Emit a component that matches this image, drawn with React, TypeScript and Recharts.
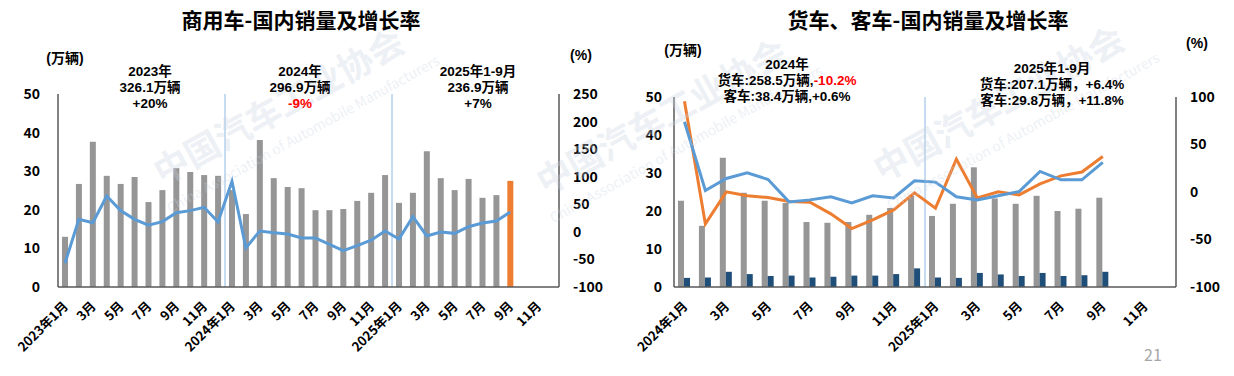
import React from 'react';
import { ComposedChart, Bar, Line, XAxis, YAxis, ReferenceLine, Cell } from 'recharts';

const FONT = '"Noto Sans CJK SC", "Noto Sans", sans-serif';
const NOTE_FONT = '"Liberation Sans", "Noto Sans CJK SC", sans-serif';

// 商用车 国内销量（万辆）与同比增长率（%），2023年1月 - 2025年12月
const cvMonths = [
  '2023-01', '2023-02', '2023-03', '2023-04', '2023-05', '2023-06',
  '2023-07', '2023-08', '2023-09', '2023-10', '2023-11', '2023-12',
  '2024-01', '2024-02', '2024-03', '2024-04', '2024-05', '2024-06',
  '2024-07', '2024-08', '2024-09', '2024-10', '2024-11', '2024-12',
  '2025-01', '2025-02', '2025-03', '2025-04', '2025-05', '2025-06',
  '2025-07', '2025-08', '2025-09', '2025-10', '2025-11', '2025-12',
];
const cvSales = [
  13.0, 26.7, 37.6, 28.8, 26.7, 28.5, 22.0, 25.1, 30.8, 29.8, 29.0, 28.8,
  25.1, 18.9, 38.1, 28.2, 25.9, 25.6, 19.9, 19.9, 20.2, 22.3, 24.4, 29.0,
  21.8, 24.4, 35.2, 28.2, 25.1, 28.0, 23.1, 23.8, 27.5, null, null, null,
];
const cvGrowth = [
  -57, 22.7, 16.6, 65, 38.5, 22.7, 12, 18.6, 34.8, 38.5, 44.5, 18,
  91.7, -29, 1.6, -1.5, -4, -11, -11, -22.6, -34, -25, -15, 1.6,
  -13, 27.6, -7.5, -0.2, -2.7, 9.4, 16, 19.7, 36, null, null, null,
];

// 货车、客车 国内销量（万辆）与同比增长率（%），2024年1月 - 2025年12月
const tbMonths = [
  '2024-01', '2024-02', '2024-03', '2024-04', '2024-05', '2024-06',
  '2024-07', '2024-08', '2024-09', '2024-10', '2024-11', '2024-12',
  '2025-01', '2025-02', '2025-03', '2025-04', '2025-05', '2025-06',
  '2025-07', '2025-08', '2025-09', '2025-10', '2025-11', '2025-12',
];
const truckSales = [
  22.7, 16.1, 34.0, 24.8, 22.7, 22.1, 17.1, 16.9, 17.1, 19.0, 20.8, 24.0,
  18.7, 21.9, 31.5, 23.3, 21.9, 24.0, 20.0, 20.6, 23.5, null, null, null,
];
const busSales = [
  2.4, 2.5, 4.0, 3.4, 2.9, 3.0, 2.5, 2.7, 3.0, 3.0, 3.4, 4.9,
  2.5, 2.4, 3.7, 3.3, 2.9, 3.7, 2.9, 3.1, 4.0, null, null, null,
];
const truckGrowth = [
  95.4, -33.6, 0.2, -4, -5.8, -10, -10.7, -23, -38.5, -29.3, -18.8, -0.9,
  -17, 34.6, -6.2, 0.2, -3, 8.6, 17, 21, 37.4, null, null, null,
];
const busGrowth = [
  74, 1.6, 14.2, 20.2, 13.2, -10.4, -8.3, -5.1, -11.4, -4, -6.2, 11.8,
  10.4, -5.1, -8.3, -4, 0.5, 21.6, 12.8, 12.8, 31.1, null, null, null,
];

const salesTicks = [0, 10, 20, 30, 40, 50];
const cvRateTicks = [-100, -50, 0, 50, 100, 150, 200, 250];
const tbRateTicks = [-100, -50, 0, 50, 100];

const cvData = cvMonths.map((month, i) => ({ month, sales: cvSales[i], growth: cvGrowth[i] }));
const tbData = tbMonths.map((month, i) => ({
  month, truck: truckSales[i], bus: busSales[i], truckRate: truckGrowth[i], busRate: busGrowth[i],
}));

const AXIS = { stroke: '#595959', strokeWidth: 1.5 };
const TICK = { fontSize: 14, fontWeight: 700, fill: '#000', fontFamily: FONT };

const monthLabel = (key: string) => {
  const [y, m] = key.split('-');
  return m === '01' ? `${y}年1月` : `${Number(m)}月`;
};

const MonthTick = (props: any) => {
  const { x, y, payload } = props;
  const tx = x + 4;
  const ty = y + 20;
  return (
    <text x={tx} y={ty} transform={`rotate(-45, ${tx}, ${ty})`} textAnchor="end"
      fontSize={13} fontWeight={700} fill="#000" fontFamily={FONT}>
      {monthLabel(payload.value)}
    </text>
  );
};

const Label = ({ x, y, children, size = 13.5, font = NOTE_FONT }: any) => (
  <div style={{
    position: 'absolute', left: x, top: y, transform: 'translateX(-50%)',
    fontSize: size, fontWeight: 700, lineHeight: size > 16 ? '18px' : '16px', whiteSpace: 'nowrap', textAlign: 'center',
    color: '#000', fontFamily: font,
  }}>{children}</div>
);

const Watermark = ({ x, y }: { x: number; y: number }) => (
  <g transform={`translate(${x},${y}) rotate(-29)`} fill="#C9D4E3" opacity={0.33} fontFamily={FONT}>
    <text x={0} y={0} textAnchor="middle" fontSize={35} fontWeight={700}>中国汽车工业协会</text>
    <text x={8} y={28} textAnchor="middle" fontSize={14}>China Association of Automobile Manufacturers</text>
  </g>
);

const App = () => (
  <div style={{ position: 'absolute', left: 0, top: 0, width: 1234, height: 376, background: '#fff', overflow: 'hidden', fontFamily: FONT }}>
    <div style={{ position: 'absolute', left: 0, top: 0 }}>
      <ComposedChart width={620} height={376} data={cvData} margin={{ top: 94, right: 0, bottom: 0, left: 0 }} barSize={6}>
        <XAxis dataKey="month" interval={1} height={89} tick={MonthTick} tickLine={false} tickSize={0} tickMargin={0} axisLine={AXIS} />
        <YAxis yAxisId="left" domain={[0, 50]} ticks={salesTicks} width={58} tickLine={false} tickSize={0} tickMargin={18} axisLine={AXIS} tick={TICK} />
        <YAxis yAxisId="right" orientation="right" domain={[-100, 250]} ticks={cvRateTicks} width={61} tickLine={false} tickSize={0} tickMargin={14} axisLine={AXIS} tick={TICK} />
        <ReferenceLine yAxisId="left" x="2024-01" position="start" stroke="#8DB8E2" strokeWidth={1} />
        <ReferenceLine yAxisId="left" x="2025-01" position="start" stroke="#8DB8E2" strokeWidth={1} />
        <Bar yAxisId="left" dataKey="sales" fill="#969696" isAnimationActive={false}>
          {cvData.map((d, i) => (
            <Cell key={d.month} fill={i === 32 ? '#ED7D31' : '#969696'} />
          ))}
        </Bar>
        <Line yAxisId="right" dataKey="growth" stroke="#5B9BD5" strokeWidth={3} dot={false} isAnimationActive={false} />
      </ComposedChart>
    </div>

    <div style={{ position: 'absolute', left: 620, top: 0 }}>
      <ComposedChart width={614} height={376} data={tbData} margin={{ top: 97, right: 0, bottom: 0, left: 0 }} barSize={6} barGap={0}>
        <XAxis dataKey="month" interval={1} height={89} tick={MonthTick} tickLine={false} tickSize={0} tickMargin={0} axisLine={AXIS} />
        <YAxis yAxisId="left" domain={[0, 50]} ticks={salesTicks} width={54} tickLine={false} tickSize={0} tickMargin={12} axisLine={AXIS} tick={TICK} />
        <YAxis yAxisId="right" orientation="right" domain={[-100, 100]} ticks={tbRateTicks} width={58} tickLine={false} tickSize={0} tickMargin={14} axisLine={AXIS} tick={TICK} />
        <ReferenceLine yAxisId="left" x="2025-01" position="start" stroke="#8DB8E2" strokeWidth={1} />
        <Bar yAxisId="left" dataKey="truck" fill="#969696" isAnimationActive={false} />
        <Bar yAxisId="left" dataKey="bus" fill="#1F4E79" isAnimationActive={false} />
        <Line yAxisId="right" dataKey="truckRate" stroke="#ED7D31" strokeWidth={3} dot={false} isAnimationActive={false} />
        <Line yAxisId="right" dataKey="busRate" stroke="#5B9BD5" strokeWidth={3} dot={false} isAnimationActive={false} />
      </ComposedChart>
    </div>

    <svg width={1234} height={376} style={{ position: 'absolute', left: 0, top: 0, pointerEvents: 'none' }}>
      <Watermark x={285} y={118} />
      <Watermark x={668} y={128} />
      <Watermark x={1005} y={115} />
    </svg>

    <Label x={301} y={10} size={21} font={FONT}>商用车-国内销量及增长率</Label>
    <Label x={928} y={10} size={21} font={FONT}>货车、客车-国内销量及增长率</Label>

    <Label x={65} y={50} size={14}>(万辆)</Label>
    <Label x={581} y={47} size={14}>(%)</Label>
    <Label x={150} y={64}>2023年<br />326.1万辆<br />+20%</Label>
    <Label x={300} y={64}>2024年<br />296.9万辆<br /><span style={{ color: '#FF0000' }}>-9%</span></Label>
    <Label x={478} y={64}>2025年1-9月<br />236.9万辆<br />+7%</Label>

    <Label x={683} y={42} size={14}>(万辆)</Label>
    <Label x={1197} y={35} size={14}>(%)</Label>
    <Label x={787} y={57}>2024年<br />货车:258.5万辆,<span style={{ color: '#FF0000' }}>-10.2%</span><br />客车:38.4万辆,+0.6%</Label>
    <Label x={1052} y={61}>2025年1-9月<br />货车:207.1万辆，+6.4%<br />客车:29.8万辆，+11.8%</Label>

    <div style={{ position: 'absolute', left: 1144, top: 342, fontSize: 16, color: '#A6A6A6', fontFamily: FONT }}>21</div>
  </div>
);

export default App;
